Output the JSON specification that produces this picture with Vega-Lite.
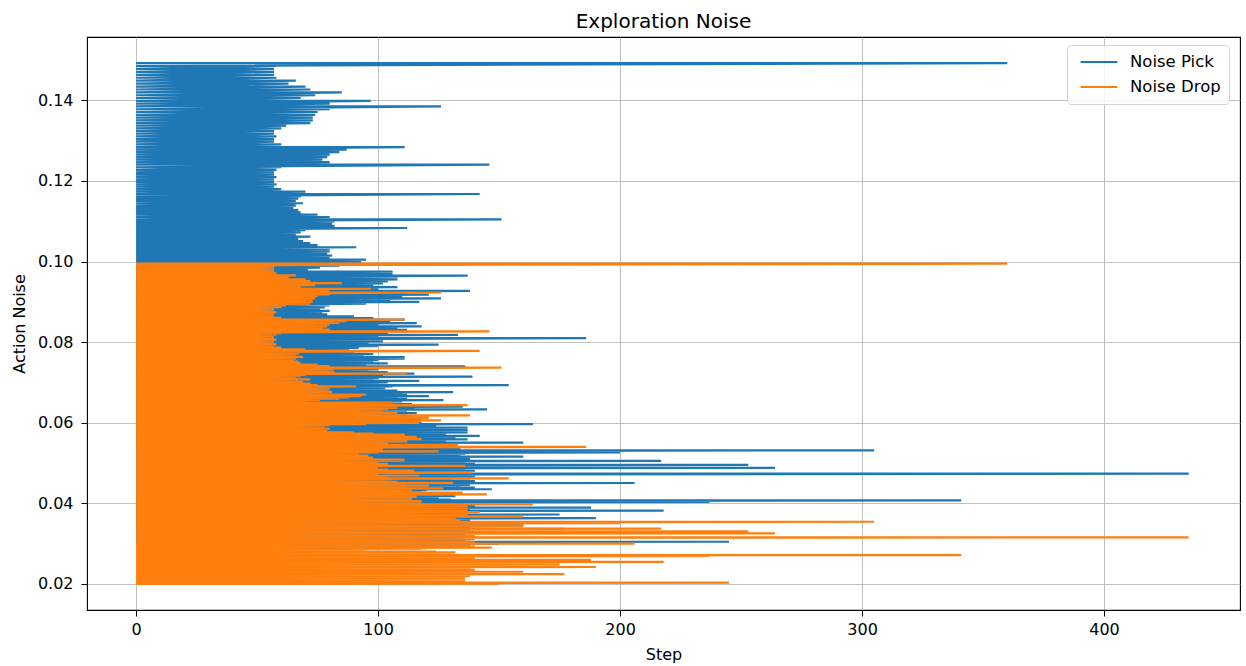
{
"$schema":"https://vega.github.io/schema/vega-lite/v6.json",
"width":1153,"height":573,
"autosize":{"type":"none"},
"padding":{"left":87,"top":37,"right":6,"bottom":56},
"background":"#ffffff",
"title":{"text":"Exploration Noise","fontSize":20,"fontWeight":"normal","font":"DejaVu Sans","color":"#000000","frame":"group","anchor":"middle","offset":10,"baseline":"alphabetic","dy":21},
"config":{"view":{"stroke":"#000000","strokeWidth":1.1},"font":"DejaVu Sans",
"axis":{"labelFont":"DejaVu Sans","labelFontSize":16,"labelColor":"#000000","titleFont":"DejaVu Sans","titleFontSize":16,"titleFontWeight":"normal","titleColor":"#000000","tickColor":"#000000","tickSize":6,"tickWidth":1,"domain":false,"grid":true,"gridColor":"#b0b0b0","gridWidth":0.8}},
"data":{"values":[
{"p":0.14925,"d":0.09950,"x":[0,360]},{"p":0.14852,"d":0.09901,"x":[0,58]},{"p":0.14779,"d":0.09853,"x":[0,57]},{"p":0.14706,"d":0.09804,"x":[0,57]},{"p":0.14633,"d":0.09755,"x":[0,57]},{"p":0.14560,"d":0.09707,"x":[0,58]},{"p":0.14487,"d":0.09658,"x":[0,66]},{"p":0.14414,"d":0.09610,"x":[0,63]},{"p":0.14341,"d":0.09561,"x":[0,70]},{"p":0.14268,"d":0.09512,"x":[0,72]},
{"p":0.14195,"d":0.09463,"x":[0,85]},{"p":0.14126,"d":0.09417,"x":[0,74]},{"p":0.14057,"d":0.09371,"x":[0,68]},{"p":0.13987,"d":0.09325,"x":[0,97]},{"p":0.13918,"d":0.09278,"x":[0,80]},{"p":0.13848,"d":0.09232,"x":[0,126]},{"p":0.13779,"d":0.09186,"x":[0,80]},{"p":0.13710,"d":0.09140,"x":[0,75]},{"p":0.13640,"d":0.09093,"x":[0,74]},{"p":0.13571,"d":0.09047,"x":[0,73]},
{"p":0.13501,"d":0.09001,"x":[0,73]},{"p":0.13435,"d":0.08957,"x":[0,72]},{"p":0.13369,"d":0.08913,"x":[0,62]},{"p":0.13303,"d":0.08869,"x":[0,60]},{"p":0.13237,"d":0.08825,"x":[0,57]},{"p":0.13171,"d":0.08781,"x":[0,57]},{"p":0.13105,"d":0.08737,"x":[0,58]},{"p":0.13039,"d":0.08693,"x":[0,57]},{"p":0.12973,"d":0.08649,"x":[0,57]},{"p":0.12907,"d":0.08605,"x":[0,60]},
{"p":0.12841,"d":0.08561,"x":[0,111]},{"p":0.12778,"d":0.08519,"x":[0,87]},{"p":0.12716,"d":0.08477,"x":[0,84]},{"p":0.12653,"d":0.08435,"x":[0,80]},{"p":0.12590,"d":0.08393,"x":[0,79]},{"p":0.12527,"d":0.08352,"x":[0,77]},{"p":0.12465,"d":0.08310,"x":[0,80]},{"p":0.12402,"d":0.08268,"x":[0,146]},{"p":0.12339,"d":0.08226,"x":[0,60]},{"p":0.12276,"d":0.08184,"x":[0,58]},
{"p":0.12214,"d":0.08142,"x":[0,57]},{"p":0.12154,"d":0.08103,"x":[0,57]},{"p":0.12094,"d":0.08063,"x":[0,58]},{"p":0.12034,"d":0.08023,"x":[0,57]},{"p":0.11975,"d":0.07983,"x":[0,57]},{"p":0.11915,"d":0.07943,"x":[0,58]},{"p":0.11855,"d":0.07903,"x":[0,57]},{"p":0.11795,"d":0.07864,"x":[0,60]},{"p":0.11736,"d":0.07824,"x":[0,70]},{"p":0.11676,"d":0.07784,"x":[0,142]},
{"p":0.11616,"d":0.07744,"x":[0,68]},{"p":0.11560,"d":0.07706,"x":[0,67]},{"p":0.11503,"d":0.07669,"x":[0,66]},{"p":0.11446,"d":0.07631,"x":[0,69]},{"p":0.11389,"d":0.07593,"x":[0,66]},{"p":0.11332,"d":0.07555,"x":[0,65]},{"p":0.11276,"d":0.07517,"x":[0,67]},{"p":0.11219,"d":0.07479,"x":[0,68]},{"p":0.11162,"d":0.07441,"x":[0,75]},{"p":0.11105,"d":0.07403,"x":[0,80]},
{"p":0.11048,"d":0.07366,"x":[0,151]},{"p":0.10994,"d":0.07330,"x":[0,82]},{"p":0.10940,"d":0.07294,"x":[0,81]},{"p":0.10886,"d":0.07258,"x":[0,82]},{"p":0.10832,"d":0.07222,"x":[0,112]},{"p":0.10778,"d":0.07186,"x":[0,70]},{"p":0.10724,"d":0.07150,"x":[0,68]},{"p":0.10670,"d":0.07114,"x":[0,66]},{"p":0.10616,"d":0.07078,"x":[0,72]},{"p":0.10562,"d":0.07042,"x":[0,67]},
{"p":0.10508,"d":0.07006,"x":[0,69]},{"p":0.10457,"d":0.06971,"x":[0,72]},{"p":0.10406,"d":0.06937,"x":[0,75]},{"p":0.10354,"d":0.06903,"x":[0,91]},{"p":0.10303,"d":0.06869,"x":[0,80]},{"p":0.10251,"d":0.06834,"x":[0,80]},{"p":0.10200,"d":0.06800,"x":[0,79]},{"p":0.10149,"d":0.06766,"x":[0,81]},{"p":0.10097,"d":0.06731,"x":[0,80]},{"p":0.10046,"d":0.06697,"x":[0,95]},
{"p":0.09995,"d":0.06663,"x":[0,93]},{"p":0.09946,"d":0.06630,"x":[0,88]},{"p":0.09897,"d":0.06598,"x":[0,84]},{"p":0.09848,"d":0.06565,"x":[0,76]},{"p":0.09799,"d":0.06533,"x":[0,71]},{"p":0.09750,"d":0.06500,"x":[0,106]},{"p":0.09701,"d":0.06468,"x":[0,106]},{"p":0.09652,"d":0.06435,"x":[0,137]},{"p":0.09604,"d":0.06402,"x":[0,108]},{"p":0.09555,"d":0.06370,"x":[0,108]},
{"p":0.09506,"d":0.06337,"x":[0,104]},{"p":0.09459,"d":0.06306,"x":[0,102]},{"p":0.09413,"d":0.06275,"x":[0,98]},{"p":0.09366,"d":0.06244,"x":[0,108]},{"p":0.09320,"d":0.06213,"x":[0,100]},{"p":0.09273,"d":0.06182,"x":[0,138]},{"p":0.09227,"d":0.06151,"x":[0,112]},{"p":0.09180,"d":0.06120,"x":[0,121]},{"p":0.09134,"d":0.06089,"x":[0,110]},{"p":0.09088,"d":0.06058,"x":[0,126]},
{"p":0.09041,"d":0.06027,"x":[0,105]},{"p":0.08997,"d":0.05998,"x":[0,117]},{"p":0.08953,"d":0.05968,"x":[0,95]},{"p":0.08909,"d":0.05939,"x":[0,80]},{"p":0.08864,"d":0.05910,"x":[0,78]},{"p":0.08820,"d":0.05880,"x":[0,76]},{"p":0.08776,"d":0.05851,"x":[0,80]},{"p":0.08732,"d":0.05821,"x":[0,77]},{"p":0.08688,"d":0.05792,"x":[0,79]},{"p":0.08643,"d":0.05762,"x":[0,90]},
{"p":0.08599,"d":0.05733,"x":[0,98]},{"p":0.08557,"d":0.05705,"x":[0,111]},{"p":0.08515,"d":0.05677,"x":[0,105]},{"p":0.08473,"d":0.05649,"x":[0,116]},{"p":0.08431,"d":0.05621,"x":[0,100]},{"p":0.08389,"d":0.05593,"x":[0,118]},{"p":0.08347,"d":0.05565,"x":[0,108]},{"p":0.08305,"d":0.05537,"x":[0,112]},{"p":0.08263,"d":0.05509,"x":[0,95]},{"p":0.08221,"d":0.05480,"x":[0,104]},
{"p":0.08179,"d":0.05452,"x":[0,133]},{"p":0.08139,"d":0.05426,"x":[0,100]},{"p":0.08099,"d":0.05399,"x":[0,186]},{"p":0.08059,"d":0.05372,"x":[0,98]},{"p":0.08019,"d":0.05346,"x":[0,102]},{"p":0.07979,"d":0.05319,"x":[0,96]},{"p":0.07939,"d":0.05292,"x":[0,125]},{"p":0.07899,"d":0.05266,"x":[0,100]},{"p":0.07859,"d":0.05239,"x":[0,92]},{"p":0.07819,"d":0.05213,"x":[0,88]},
{"p":0.07779,"d":0.05186,"x":[0,96]},{"p":0.07741,"d":0.05161,"x":[0,90]},{"p":0.07703,"d":0.05135,"x":[0,98]},{"p":0.07665,"d":0.05110,"x":[0,94]},{"p":0.07627,"d":0.05084,"x":[0,111]},{"p":0.07589,"d":0.05059,"x":[0,111]},{"p":0.07551,"d":0.05034,"x":[0,100]},{"p":0.07513,"d":0.05008,"x":[0,98]},{"p":0.07475,"d":0.04983,"x":[0,104]},{"p":0.07437,"d":0.04958,"x":[0,95]},
{"p":0.07399,"d":0.04932,"x":[0,136]},{"p":0.07362,"d":0.04908,"x":[0,98]},{"p":0.07326,"d":0.04884,"x":[0,100]},{"p":0.07290,"d":0.04860,"x":[0,96]},{"p":0.07254,"d":0.04836,"x":[0,104]},{"p":0.07218,"d":0.04812,"x":[0,115]},{"p":0.07181,"d":0.04788,"x":[0,102]},{"p":0.07145,"d":0.04764,"x":[0,139]},{"p":0.07109,"d":0.04739,"x":[0,100]},{"p":0.07073,"d":0.04715,"x":[0,98]},
{"p":0.07037,"d":0.04691,"x":[0,117]},{"p":0.07002,"d":0.04668,"x":[0,104]},{"p":0.06968,"d":0.04645,"x":[0,100]},{"p":0.06934,"d":0.04622,"x":[0,154]},{"p":0.06899,"d":0.04599,"x":[0,106]},{"p":0.06865,"d":0.04577,"x":[0,103]},{"p":0.06830,"d":0.04554,"x":[0,103]},{"p":0.06796,"d":0.04531,"x":[0,108]},{"p":0.06762,"d":0.04508,"x":[0,131]},{"p":0.06727,"d":0.04485,"x":[0,110]},
{"p":0.06693,"d":0.04462,"x":[0,112]},{"p":0.06660,"d":0.04440,"x":[0,121]},{"p":0.06627,"d":0.04418,"x":[0,108]},{"p":0.06595,"d":0.04396,"x":[0,112]},{"p":0.06562,"d":0.04374,"x":[0,127]},{"p":0.06529,"d":0.04353,"x":[0,110]},{"p":0.06496,"d":0.04331,"x":[0,106]},{"p":0.06464,"d":0.04309,"x":[0,114]},{"p":0.06431,"d":0.04287,"x":[0,110]},{"p":0.06398,"d":0.04266,"x":[0,135]},
{"p":0.06366,"d":0.04244,"x":[0,115]},{"p":0.06334,"d":0.04223,"x":[0,145]},{"p":0.06303,"d":0.04202,"x":[0,112]},{"p":0.06272,"d":0.04181,"x":[0,110]},{"p":0.06241,"d":0.04161,"x":[0,116]},{"p":0.06210,"d":0.04140,"x":[0,112]},{"p":0.06179,"d":0.04119,"x":[0,108]},{"p":0.06148,"d":0.04098,"x":[0,114]},{"p":0.06117,"d":0.04078,"x":[0,110]},{"p":0.06085,"d":0.04057,"x":[0,118]},
{"p":0.06054,"d":0.04036,"x":[0,115]},{"p":0.06025,"d":0.04016,"x":[0,112]},{"p":0.05995,"d":0.03997,"x":[0,118]},{"p":0.05966,"d":0.03977,"x":[0,164]},{"p":0.05936,"d":0.03957,"x":[0,120]},{"p":0.05906,"d":0.03938,"x":[0,124]},{"p":0.05877,"d":0.03918,"x":[0,137]},{"p":0.05847,"d":0.03898,"x":[0,130]},{"p":0.05818,"d":0.03878,"x":[0,137]},{"p":0.05788,"d":0.03859,"x":[0,132]},
{"p":0.05758,"d":0.03839,"x":[0,137]},{"p":0.05730,"d":0.03820,"x":[0,128]},{"p":0.05702,"d":0.03801,"x":[0,124]},{"p":0.05674,"d":0.03783,"x":[0,142]},{"p":0.05646,"d":0.03764,"x":[0,130]},{"p":0.05618,"d":0.03745,"x":[0,132]},{"p":0.05589,"d":0.03726,"x":[0,137]},{"p":0.05561,"d":0.03708,"x":[0,128]},{"p":0.05533,"d":0.03689,"x":[0,126]},{"p":0.05505,"d":0.03670,"x":[0,160]},
{"p":0.05477,"d":0.03651,"x":[0,130]},{"p":0.05450,"d":0.03633,"x":[0,126]},{"p":0.05423,"d":0.03616,"x":[0,132]},{"p":0.05396,"d":0.03598,"x":[0,128]},{"p":0.05370,"d":0.03580,"x":[0,134]},{"p":0.05343,"d":0.03562,"x":[0,130]},{"p":0.05316,"d":0.03544,"x":[0,305]},{"p":0.05289,"d":0.03526,"x":[0,132]},{"p":0.05263,"d":0.03508,"x":[0,200]},{"p":0.05236,"d":0.03491,"x":[0,136]},
{"p":0.05209,"d":0.03473,"x":[0,130]},{"p":0.05184,"d":0.03456,"x":[0,134]},{"p":0.05158,"d":0.03439,"x":[0,160]},{"p":0.05133,"d":0.03422,"x":[0,132]},{"p":0.05107,"d":0.03405,"x":[0,138]},{"p":0.05082,"d":0.03388,"x":[0,134]},{"p":0.05056,"d":0.03371,"x":[0,217]},{"p":0.05031,"d":0.03354,"x":[0,136]},{"p":0.05005,"d":0.03337,"x":[0,132]},{"p":0.04980,"d":0.03320,"x":[0,140]},
{"p":0.04954,"d":0.03303,"x":[0,253]},{"p":0.04930,"d":0.03287,"x":[0,134]},{"p":0.04906,"d":0.03271,"x":[0,138]},{"p":0.04882,"d":0.03254,"x":[0,264]},{"p":0.04857,"d":0.03238,"x":[0,136]},{"p":0.04833,"d":0.03222,"x":[0,132]},{"p":0.04809,"d":0.03206,"x":[0,140]},{"p":0.04785,"d":0.03190,"x":[0,134]},{"p":0.04761,"d":0.03174,"x":[0,138]},{"p":0.04736,"d":0.03158,"x":[0,435]},
{"p":0.04712,"d":0.03141,"x":[0,136]},{"p":0.04689,"d":0.03126,"x":[0,132]},{"p":0.04666,"d":0.03111,"x":[0,140]},{"p":0.04643,"d":0.03095,"x":[0,134]},{"p":0.04620,"d":0.03080,"x":[0,138]},{"p":0.04597,"d":0.03065,"x":[0,130]},{"p":0.04574,"d":0.03049,"x":[0,130]},{"p":0.04551,"d":0.03034,"x":[0,140]},{"p":0.04528,"d":0.03019,"x":[0,136]},{"p":0.04505,"d":0.03003,"x":[0,206]},
{"p":0.04482,"d":0.02988,"x":[0,132]},{"p":0.04460,"d":0.02973,"x":[0,138]},{"p":0.04438,"d":0.02959,"x":[0,128]},{"p":0.04416,"d":0.02944,"x":[0,134]},{"p":0.04394,"d":0.02929,"x":[0,140]},{"p":0.04372,"d":0.02915,"x":[0,130]},{"p":0.04350,"d":0.02900,"x":[0,147]},{"p":0.04328,"d":0.02886,"x":[0,120]},{"p":0.04307,"d":0.02871,"x":[0,118]},{"p":0.04285,"d":0.02856,"x":[0,92]},
{"p":0.04263,"d":0.02842,"x":[0,90]},{"p":0.04242,"d":0.02828,"x":[0,90]},{"p":0.04221,"d":0.02814,"x":[0,94]},{"p":0.04200,"d":0.02800,"x":[0,124]},{"p":0.04179,"d":0.02786,"x":[0,132]},{"p":0.04158,"d":0.02772,"x":[0,118]},{"p":0.04138,"d":0.02758,"x":[0,115]},{"p":0.04117,"d":0.02744,"x":[0,125]},{"p":0.04096,"d":0.02731,"x":[0,130]},{"p":0.04075,"d":0.02717,"x":[0,341]},
{"p":0.04054,"d":0.02703,"x":[0,132]},{"p":0.04034,"d":0.02690,"x":[0,237]},{"p":0.04015,"d":0.02676,"x":[0,128]},{"p":0.03995,"d":0.02663,"x":[0,136]},{"p":0.03975,"d":0.02650,"x":[0,130]},{"p":0.03955,"d":0.02637,"x":[0,134]},{"p":0.03935,"d":0.02624,"x":[0,140]},{"p":0.03916,"d":0.02610,"x":[0,132]},{"p":0.03896,"d":0.02597,"x":[0,188]},{"p":0.03876,"d":0.02584,"x":[0,136]},
{"p":0.03856,"d":0.02571,"x":[0,130]},{"p":0.03837,"d":0.02558,"x":[0,138]},{"p":0.03818,"d":0.02546,"x":[0,218]},{"p":0.03800,"d":0.02533,"x":[0,134]},{"p":0.03781,"d":0.02520,"x":[0,130]},{"p":0.03762,"d":0.02508,"x":[0,136]},{"p":0.03743,"d":0.02495,"x":[0,132]},{"p":0.03724,"d":0.02483,"x":[0,175]},{"p":0.03705,"d":0.02470,"x":[0,134]},{"p":0.03686,"d":0.02458,"x":[0,138]},
{"p":0.03668,"d":0.02445,"x":[0,130]},{"p":0.03650,"d":0.02433,"x":[0,136]},{"p":0.03632,"d":0.02421,"x":[0,190]},{"p":0.03614,"d":0.02409,"x":[0,134]},{"p":0.03596,"d":0.02397,"x":[0,130]},{"p":0.03578,"d":0.02385,"x":[0,138]},{"p":0.03560,"d":0.02373,"x":[0,132]},{"p":0.03542,"d":0.02361,"x":[0,136]},{"p":0.03524,"d":0.02349,"x":[0,140]},{"p":0.03506,"d":0.02337,"x":[0,130]},
{"p":0.03488,"d":0.02326,"x":[0,134]},{"p":0.03471,"d":0.02314,"x":[0,136]},{"p":0.03454,"d":0.02303,"x":[0,160]},{"p":0.03437,"d":0.02291,"x":[0,132]},{"p":0.03420,"d":0.02280,"x":[0,138]},{"p":0.03403,"d":0.02269,"x":[0,130]},{"p":0.03386,"d":0.02257,"x":[0,134]},{"p":0.03369,"d":0.02246,"x":[0,177]},{"p":0.03352,"d":0.02235,"x":[0,132]},{"p":0.03335,"d":0.02223,"x":[0,136]},
{"p":0.03318,"d":0.02212,"x":[0,130]},{"p":0.03301,"d":0.02201,"x":[0,138]},{"p":0.03285,"d":0.02190,"x":[0,128]},{"p":0.03269,"d":0.02179,"x":[0,134]},{"p":0.03253,"d":0.02169,"x":[0,130]},{"p":0.03237,"d":0.02158,"x":[0,132]},{"p":0.03220,"d":0.02147,"x":[0,136]},{"p":0.03204,"d":0.02136,"x":[0,128]},{"p":0.03188,"d":0.02125,"x":[0,134]},{"p":0.03172,"d":0.02114,"x":[0,130]},
{"p":0.03155,"d":0.02104,"x":[0,136]},{"p":0.03140,"d":0.02093,"x":[0,132]},{"p":0.03125,"d":0.02083,"x":[0,128]},{"p":0.03109,"d":0.02073,"x":[0,134]},{"p":0.03094,"d":0.02062,"x":[0,130]},{"p":0.03078,"d":0.02052,"x":[0,136]},{"p":0.03063,"d":0.02042,"x":[0,132]},{"p":0.03047,"d":0.02032,"x":[0,245]},{"p":0.03032,"d":0.02021,"x":[0,134]},{"p":0.03017,"d":0.02011,"x":[0,130]},
{"p":0.03000,"d":0.02000,"x":[0,150]},{"p":0.03000,"d":0.02000,"x":[0,138]},{"p":0.03000,"d":0.02000,"x":[0,128]}
]},
"transform":[{"flatten":["x"]},{"fold":["p","d"],"as":["s","y"]}],
"mark":{"type":"line","strokeWidth":2.2},
"encoding":{
"x":{"field":"x","type":"quantitative","scale":{"domain":[-20.3,456.2],"nice":false,"zero":false},"axis":{"values":[0,100,200,300,400],"title":"Step","labelPadding":5,"titlePadding":9}},
"y":{"field":"y","type":"quantitative","scale":{"domain":[0.01354,0.15571],"nice":false,"zero":false},"axis":{"values":[0.02,0.04,0.06,0.08,0.1,0.12,0.14],"format":".2f","title":"Action Noise","labelPadding":8,"titlePadding":10}},
"color":{"field":"s","type":"nominal","scale":{"domain":["p","d"],"range":["#1f77b4","#ff7f0e"]},
"legend":{"orient":"none","legendX":980,"legendY":8,"title":null,"symbolType":"M-2.3,0L2.3,0","symbolSize":256,"symbolStrokeWidth":2,"symbolOffset":15,"labelFont":"DejaVu Sans","labelFontSize":16.5,"labelColor":"#000000","labelOffset":22,"rowPadding":7,"padding":8,"strokeColor":"#d5d5d5","fillColor":"rgba(255,255,255,0.8)","cornerRadius":4,"labelExpr":"datum.label == 'p' ? 'Noise Pick' : 'Noise Drop'"}},
"order":{"value":null}
}
}
